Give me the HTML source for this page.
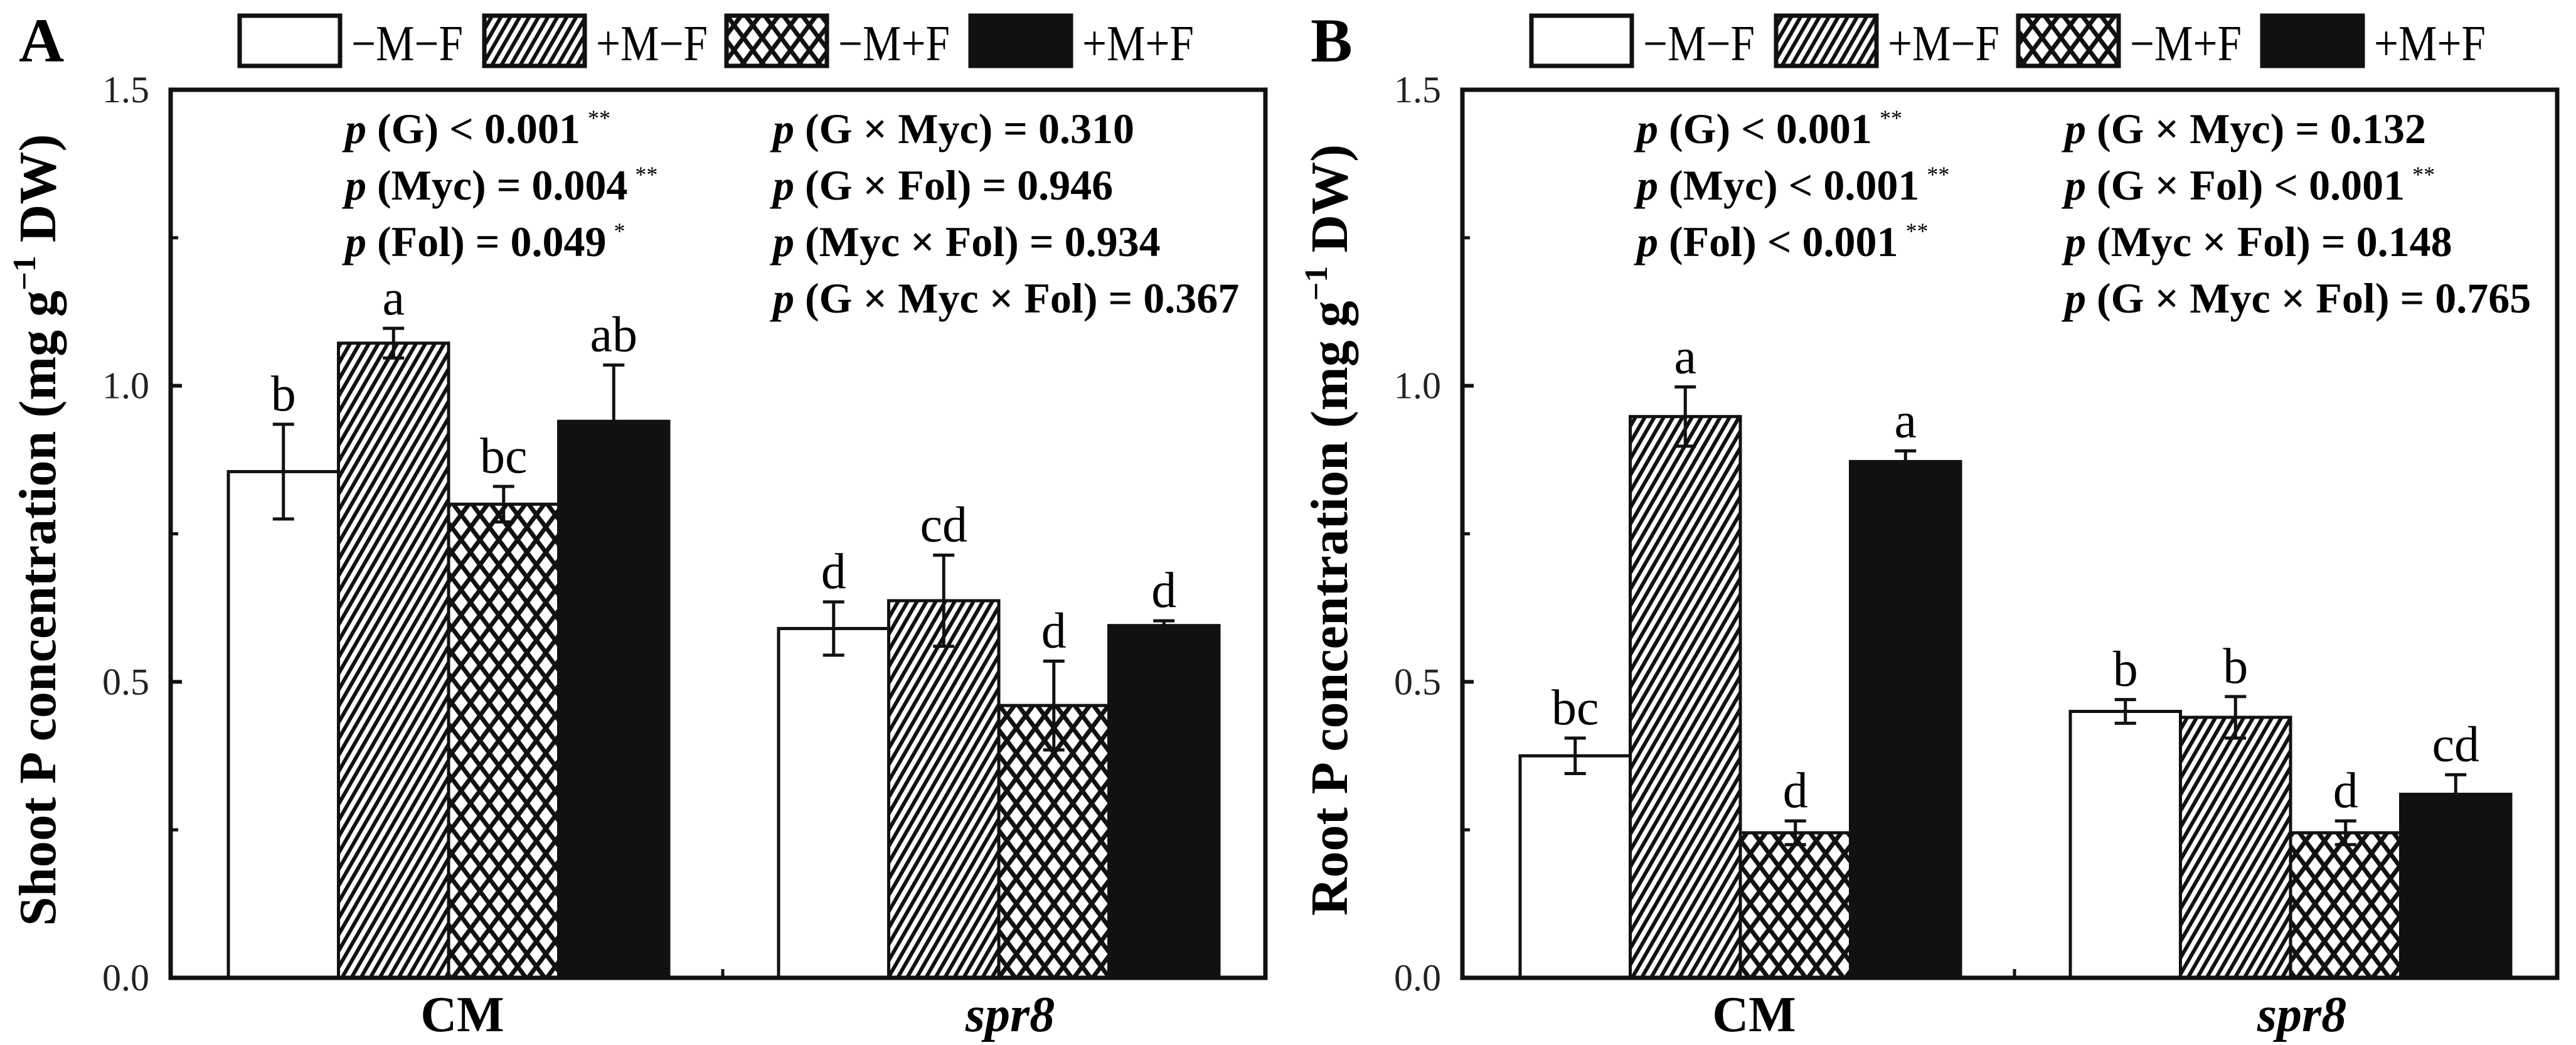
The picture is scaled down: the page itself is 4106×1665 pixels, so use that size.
<!DOCTYPE html>
<html><head><meta charset="utf-8">
<style>
html,body{margin:0;padding:0;background:#fff;}
svg{display:block;font-family:"Liberation Serif","Times New Roman",serif;}
svg text, svg tspan{font-family:"Liberation Serif","Times New Roman",serif;}
</style></head>
<body>
<svg id="chart" width="4106" height="1665" viewBox="0 0 4106 1665" xmlns="http://www.w3.org/2000/svg">
<defs>
<pattern id="stripes" patternUnits="userSpaceOnUse" width="13" height="13" patternTransform="rotate(30)">
<rect width="13" height="13" fill="#fff"/><rect x="0" y="0" width="6" height="13" fill="#111"/>
</pattern>
<pattern id="cross" patternUnits="userSpaceOnUse" width="30" height="40">
<rect width="30" height="40" fill="#fff"/>
<path d="M0,0 L30,40 M30,0 L0,40 M-15,20 L0,40 M15,-20 L45,20 M45,20 L30,40" stroke="#111" stroke-width="7" fill="none"/>
<path d="M15,-20 L-15,20 M45,20 L15,60" stroke="#111" stroke-width="7"/>
</pattern>
</defs>
<g id="root"></g>
</svg>
<script>
const groups = ["CM", "spr8"];
const treatments = ["−M−F", "+M−F", "−M+F", "+M+F"];
const shootMeans = [[0.855, 1.072, 0.800, 0.940], [0.590, 0.637, 0.460, 0.595]];
const shootErr = [[0.080, 0.025, 0.030, 0.095], [0.045, 0.077, 0.075, 0.008]];
const shootLetters = [["b", "a", "bc", "ab"], ["d", "cd", "d", "d"]];
const rootMeans = [[0.375, 0.948, 0.245, 0.872], [0.450, 0.440, 0.245, 0.310]];
const rootErr = [[0.030, 0.050, 0.020, 0.018], [0.020, 0.035, 0.020, 0.033]];
const rootLetters = [["bc", "a", "d", "a"], ["b", "b", "d", "cd"]];
const yTicks = [0, 0.5, 1.0, 1.5];
const yTickLabels = ["0.0", "0.5", "1.0", "1.5"];
const yMinorTicks = [0.25, 0.75, 1.25];
const shootStatsL = [["(G) < 0.001", "**"], ["(Myc) = 0.004", "**"], ["(Fol) = 0.049", "*"]];
const shootStatsR = [["(G × Myc) = 0.310", ""], ["(G × Fol) = 0.946", ""], ["(Myc × Fol) = 0.934", ""], ["(G × Myc × Fol) = 0.367", ""]];
const rootStatsL = [["(G) < 0.001", "**"], ["(Myc) < 0.001", "**"], ["(Fol) < 0.001", "**"]];
const rootStatsR = [["(G × Myc) = 0.132", ""], ["(G × Fol) < 0.001", "**"], ["(Myc × Fol) = 0.148", ""], ["(G × Myc × Fol) = 0.765", ""]];

const NS = "http://www.w3.org/2000/svg";
const FONT = '"Liberation Serif", "Times New Roman", serif';
const root = document.getElementById("root");
const fills = ["#fff", "url(#stripes)", "url(#cross)", "#111"];
function mk(tag, attrs, parent) {
  const e = document.createElementNS(NS, tag);
  for (const k in attrs) e.setAttribute(k, attrs[k]);
  if (tag === "text" || tag === "tspan") e.setAttribute("font-family", FONT);
  (parent || root).appendChild(e);
  return e;
}

function panel(ox, letter, title, means, errs, letters, statsL, statsR, key) {
  const g = mk("g", {});
  
  
  const L = ox + 272, R = ox + 2017, T = 143, B = 1558;
  const y = v => B - (v / 1.5) * (B - T);
  const groupStart = [ox + 364, ox + 1241];
  const bw = 175.5;
  const x = (gi, ti) => groupStart[gi] + ti * bw;

  const pl = mk("text", {x: ox + 30, y: 98, "font-size": 100, "font-weight": "bold"}, g);
  pl.textContent = letter;
  
  

  const legX = [ox + 382, ox + 772, ox + 1158, ox + 1547];
  treatments.forEach((t, i) => {
    const r = mk("rect", {x: legX[i], y: 25, width: 160, height: 80, fill: fills[i], stroke: "#111", "stroke-width": 7}, g);
    
    
    const tx = mk("text", {x: legX[i] + 178, y: 96, "font-size": 80, textLength: 178, lengthAdjust: "spacingAndGlyphs"}, g);
    tx.textContent = t;
    
    
  });

  means.forEach((arr, gi) => arr.forEach((v, ti) => {
    const r = mk("rect", {x: x(gi, ti), y: y(v), width: bw, height: B - y(v), fill: fills[ti], stroke: "#111", "stroke-width": 5}, g);
    
    
    const cx = x(gi, ti) + bw / 2, e = errs[gi][ti];
    const eb = mk("path", {d: `M${cx},${y(v + e)} V${y(v - e)} M${cx - 17},${y(v + e)} H${cx + 17} M${cx - 17},${y(v - e)} H${cx + 17}`, stroke: "#111", "stroke-width": 5, fill: "none"}, g);
    
    
    const lt = mk("text", {x: cx, y: y(v + e) - 22, "font-size": 80, "text-anchor": "middle"}, g);
    lt.textContent = letters[gi][ti];
    
    
  }));

  const fr = mk("rect", {x: L, y: T, width: R - L, height: B - T, fill: "none", stroke: "#111", "stroke-width": 7}, g);
  
  
  yTicks.forEach((v, i) => {
    mk("path", {d: `M${L},${y(v)} H${L + 18}`, stroke: "#111", "stroke-width": 6}, g);
    const tl = mk("text", {x: L - 34, y: y(v) + 20, "font-size": 60, "text-anchor": "end", fill: "#222"}, g);
    tl.textContent = yTickLabels[i];
    
    
  });
  yMinorTicks.forEach(v => mk("path", {d: `M${L},${y(v)} H${L + 12}`, stroke: "#111", "stroke-width": 5}, g));
  mk("path", {d: `M${ox + 1152},${B} V${B - 14}`, stroke: "#111", "stroke-width": 5}, g);

  const gcx = [ox + 737, ox + 1610];
  groups.forEach((gn, gi) => {
    const t = mk("text", {x: gcx[gi], y: 1643, "font-size": 80, "font-weight": "bold", "text-anchor": "middle", "font-style": gi === 1 ? "italic" : "normal"}, g);
    t.textContent = gn;
    
    
  });

  const yt = mk("text", {x: 0, y: 0, "font-size": 84, "font-weight": "bold", "text-anchor": "middle", transform: `translate(${ox + 88},${(228 + 1461) / 2}) rotate(-90)`}, g);
  yt.appendChild(document.createTextNode(title + ' (mg g'));
  const sup = mk("tspan", {dy: -32, "font-size": 52}, yt);
  sup.textContent = "−1";
  const rest = mk("tspan", {dy: 32}, yt);
  rest.textContent = " DW)";
  
  

  function stats(list, sx) {
    list.forEach((s, i) => {
      const t = mk("text", {x: sx, y: 228 + i * 90, "font-size": 68, "font-weight": "bold"}, g);
      const pp = mk("tspan", {"font-style": "italic"}, t);
      pp.textContent = "p";
      t.appendChild(document.createTextNode(" " + s[0]));
      if (s[1]) {
        const st = mk("tspan", {"font-size": 36, "font-weight": "normal", dy: -28, dx: 12}, t);
        st.textContent = s[1];
      }
      
      
    });
  }
  stats(statsL, ox + 550);
  stats(statsR, ox + 1232);
}
panel(0, "A", "Shoot P concentration", shootMeans, shootErr, shootLetters, shootStatsL, shootStatsR, "shoot");
panel(2059, "B", "Root P concentration", rootMeans, rootErr, rootLetters, rootStatsL, rootStatsR, "root");
</script>
</body></html>
